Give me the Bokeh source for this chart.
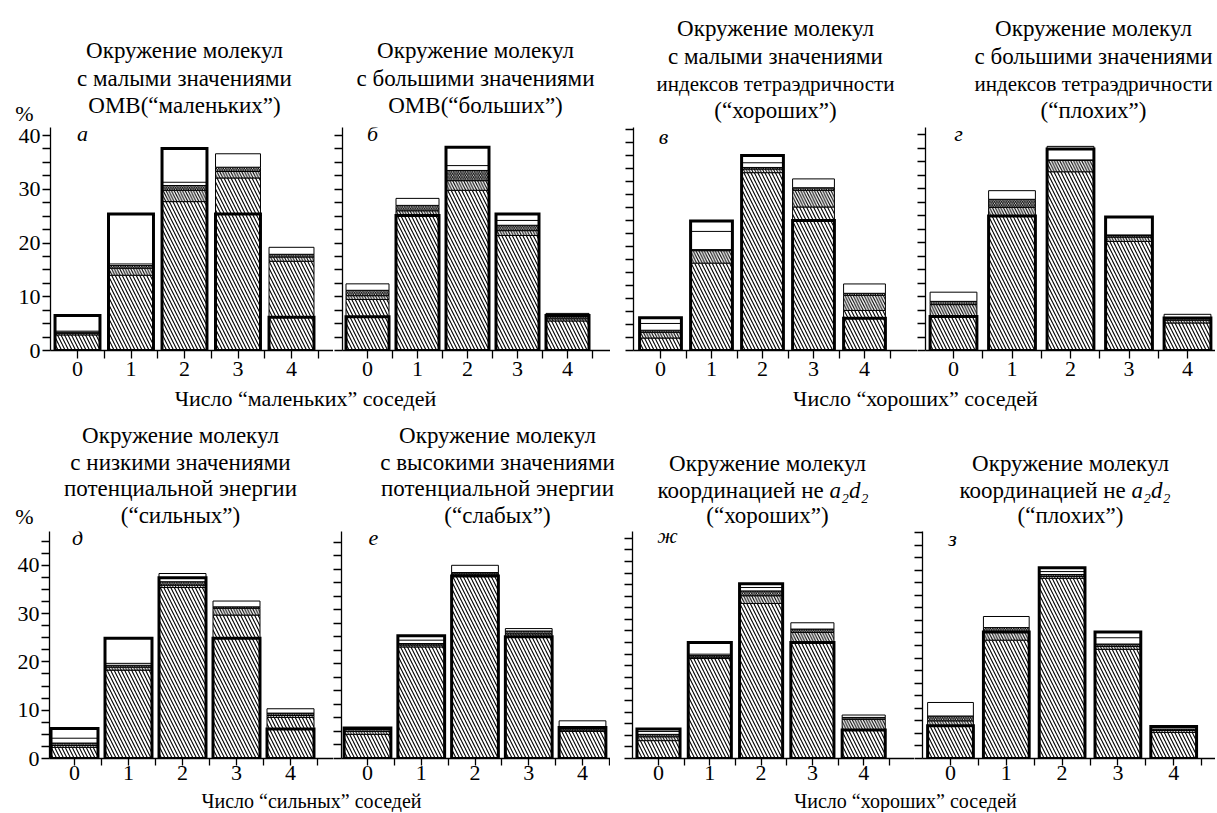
from bokeh.plotting import figure
from bokeh.layouts import column, row
from bokeh.models import Range1d, FixedTicker, Label
from bokeh.embed import file_html
from bokeh.resources import INLINE

FONT = "Liberation Serif"

# ---------------- data ----------------
neighbours = [0, 1, 2, 3, 4]
tick_labels = ["0", "1", "2", "3", "4"]

# а
a_hatch = [2.9, 14.0, 27.7, 32.1, 16.6]
a_hatch2 = [3.2, 15.3, 29.8, 33.3, 17.4]
a_band = [3.4, 15.8, 30.7, 34.1, 17.9]
a_total = [3.6, 16.1, 31.3, 36.6, 19.2]
a_model = [6.5, 25.4, 37.6, 25.4, 6.2]
# б
b_hatch = [9.5, 25.1, 29.8, 21.4, 5.5]
b_hatch2 = [10.2, 26.0, 31.6, 22.3, 5.9]
b_band = [11.2, 27.0, 33.5, 23.3, 6.3]
b_total = [12.4, 28.3, 34.4, 24.2, 6.9]
b_model = [6.3, 25.1, 37.8, 25.4, 6.5]
# в
v_hatch = [2.4, 16.8, 34.2, 27.6, 7.7]
v_hatch2 = [3.5, 19.2, 34.9, 30.8, 10.6]
v_band = [3.9, 19.4, 35.2, 31.3, 11.0]
v_total = [5.2, 22.9, 36.1, 33.0, 12.8]
v_model = [6.3, 24.9, 37.5, 25.0, 6.2]
# г
g_hatch = [6.3, 24.9, 33.1, 20.2, 5.1]
g_hatch2 = [8.5, 26.5, 35.2, 21.0, 5.6]
g_band = [9.1, 28.0, 35.3, 21.3, 6.0]
g_total = [10.8, 29.6, 37.8, 21.4, 6.7]
g_model = [6.3, 24.9, 37.3, 24.7, 6.0]
# д
d_hatch = [2.3, 18.3, 35.4, 29.7, 8.5]
d_hatch2 = [2.7, 18.9, 35.9, 31.1, 8.9]
d_band = [3.2, 19.3, 36.6, 31.4, 9.4]
d_total = [4.2, 19.7, 38.3, 32.6, 10.3]
d_model = [6.2, 24.9, 37.4, 24.9, 6.1]
# е
e_hatch = [5.0, 23.1, 37.8, 25.1, 5.6]
e_hatch2 = [5.6, 23.5, 38.2, 25.8, 5.9]
e_band = [6.0, 23.8, 38.5, 26.4, 6.2]
e_total = [6.2, 24.5, 40.0, 26.9, 7.8]
e_model = [6.3, 25.4, 37.8, 25.2, 6.4]
# ж
zh_hatch = [3.7, 20.7, 32.1, 24.0, 5.9]
zh_hatch2 = [4.5, 21.0, 33.7, 26.1, 8.1]
zh_band = [5.0, 21.3, 34.7, 26.8, 8.5]
zh_total = [5.6, 21.6, 35.4, 28.1, 9.0]
zh_model = [6.1, 24.0, 36.2, 24.0, 5.9]
# з
z_hatch = [6.8, 24.5, 37.3, 22.6, 5.4]
z_hatch2 = [7.8, 26.2, 37.7, 23.2, 5.8]
z_band = [8.8, 27.1, 38.1, 23.7, 6.1]
z_total = [11.6, 29.4, 38.7, 25.0, 6.4]
z_model = [6.8, 26.2, 39.5, 26.2, 6.6]

title_a = ["Окружение молекул", "с малыми значениями", "ОМВ(“маленьких”)"]
title_b = ["Окружение молекул", "с большими значениями", "ОМВ(“больших”)"]
title_v = ["Окружение молекул", "с малыми значениями", "индексов тетраэдричности", "(“хороших”)"]
title_g = ["Окружение молекул", "с большими значениями", "индексов тетраэдричности", "(“плохих”)"]
title_d = ["Окружение молекул", "с низкими значениями", "потенциальной энергии", "(“сильных”)"]
title_e = ["Окружение молекул", "с высокими значениями", "потенциальной энергии", "(“слабых”)"]
title_zh = ["Окружение молекул", "координацией не |a₂d₂", "(“хороших”)"]
title_z = ["Окружение молекул", "координацией не |a₂d₂", "(“плохих”)"]

xlabel_top = ["Число “маленьких” соседей", "Число “хороших” соседей"]
xlabel_bottom = ["Число “сильных” соседей", "Число “хороших” соседей"]

# ---------------- layout (page px) ----------------
W = 1215
ROWS = [
    dict(frame_top=127, axis_y=350, bottom=36, tick=8, standoff=3),
    dict(frame_top=531, axis_y=758, bottom=31, tick=7, standoff=0),
]
PANELS = [
    dict(r=0, left=0, w=333, bl=50, c0=77, u=53.5, bw=0.84, k=5.375, ystep=2.5, ylab=True,
         letter="а", lpos=(82, 133), tx=184, ty=[50, 78, 105], title=title_a,
         data=(a_hatch, a_hatch2, a_band, a_total, a_model)),
    dict(r=0, left=333, w=277, bl=9, c0=367, u=50, bw=0.86, k=5.375, ystep=2.5, ylab=False,
         letter="б", lpos=(372, 133), tx=475, ty=[50, 78, 105], title=title_b,
         data=(b_hatch, b_hatch2, b_band, b_total, b_model)),
    dict(r=0, left=610, w=307, bl=23, c0=660, u=51, bw=0.82, k=5.2, ystep=2.5, ylab=False,
         letter="в", lpos=(663, 136), tx=775, ty=[28, 56, 83, 110], title=title_v,
         data=(v_hatch, v_hatch2, v_band, v_total, v_model)),
    dict(r=0, left=917, w=298, bl=8, c0=953, u=58.5, bw=0.8, k=5.4, ystep=2.5, ylab=False,
         letter="г", lpos=(958, 133), tx=1093, ty=[28, 56, 83, 110], title=title_g,
         data=(g_hatch, g_hatch2, g_band, g_total, g_model)),
    dict(r=1, left=0, w=333, bl=49, c0=74, u=54, bw=0.87, k=4.83, ystep=2.5, ylab=True,
         letter="д", lpos=(77, 537), tx=180, ty=[435, 462, 488, 515], title=title_d,
         data=(d_hatch, d_hatch2, d_band, d_total, d_model)),
    dict(r=1, left=333, w=277, bl=8, c0=367, u=53.75, bw=0.87, k=4.83, ystep=2.8, ylab=False,
         letter="е", lpos=(373, 537), tx=497, ty=[435, 462, 488, 515], title=title_e,
         data=(e_hatch, e_hatch2, e_band, e_total, e_model)),
    dict(r=1, left=610, w=304, bl=22, c0=658, u=51.3, bw=0.84, k=4.83, ystep=2.4, ylab=False,
         letter="ж", lpos=(667, 535), tx=767, ty=[463, 490, 515], title=title_zh, split=829,
         data=(zh_hatch, zh_hatch2, zh_band, zh_total, zh_model)),
    dict(r=1, left=914, w=301, bl=8, c0=950, u=55.8, bw=0.82, k=4.83, ystep=2.6, ylab=False,
         letter="з", lpos=(952, 538), tx=1070, ty=[463, 490, 515], title=title_z, split=1131,
         data=(z_hatch, z_hatch2, z_band, z_total, z_model)),
]


def style_text(size="23px", **kw):
    d = dict(text_font=FONT, text_font_size=size, text_color="black", text_baseline="middle")
    d.update(kw)
    return d


def make_panel(s):
    rw = ROWS[s["r"]]
    L = s["left"] + s["bl"]
    R = s["left"] + s["w"]
    u, c0, k, ay = s["u"], s["c0"], s["k"], rw["axis_y"]
    x0 = (L - c0) / u
    x1 = (R - c0) / u
    frame_h = ay - rw["frame_top"]
    ymax = frame_h / k

    p = figure(width=s["w"], height=frame_h + rw["bottom"], x_range=Range1d(x0, x1),
               y_range=Range1d(0, ymax), min_border_left=s["bl"], min_border_right=0,
               min_border_top=0, min_border_bottom=rw["bottom"], toolbar_location=None,
               output_backend="svg", title=None)
    p.outline_line_color = None
    p.grid.visible = False

    hatch, hatch2, band, total, model = s["data"]
    zeros = [0] * len(neighbours)
    bw = s["bw"]
    common = dict(x=neighbours, width=bw, fill_color="white", line_color="black", line_width=1,
                  hatch_color="black", hatch_weight=1.1)
    p.vbar(bottom=zeros, top=hatch, hatch_pattern="\\", hatch_scale=7, **common)
    p.vbar(bottom=hatch, top=hatch2, hatch_pattern="\\", hatch_scale=5.5, **common)
    p.vbar(bottom=hatch2, top=band, hatch_pattern="\\", hatch_scale=3.5, **common)
    p.vbar(bottom=band, top=total, **common)
    p.vbar(x=neighbours, width=bw, bottom=zeros, top=model, fill_alpha=0, line_color="black",
           line_width=3, line_join="miter")

    xa = p.xaxis[0]
    xa.ticker = FixedTicker(ticks=neighbours, minor_ticks=[n + 0.5 for n in neighbours])
    xa.major_label_overrides = {n: t for n, t in zip(neighbours, tick_labels)}
    xa.major_tick_out = rw["tick"]
    xa.major_tick_in = 0
    xa.minor_tick_out = rw["tick"]
    xa.minor_tick_in = 0
    xa.major_label_standoff = rw["standoff"]
    xa.major_label_text_font = FONT
    xa.major_label_text_font_size = "22px"
    xa.major_label_text_color = "black"
    xa.axis_line_width = 1.3
    xa.major_tick_line_width = 1.3
    xa.minor_tick_line_width = 1.3

    ya = p.yaxis[0]
    n_ticks = int(ymax / s["ystep"] + 1e-6)
    all_ticks = [round(i * s["ystep"], 3) for i in range(n_ticks + 1)]
    if s["ylab"]:
        majors = [0, 10, 20, 30, 40]
        ya.ticker = FixedTicker(ticks=majors, minor_ticks=[t for t in all_ticks if t not in majors])
        ya.major_label_standoff = 2
        ya.major_label_text_font = FONT
        ya.major_label_text_font_size = "22px"
        ya.major_label_text_color = "black"
    else:
        ya.ticker = FixedTicker(ticks=[], minor_ticks=all_ticks)
        ya.major_label_standoff = 0
    ya.major_tick_out = 8
    ya.major_tick_in = 0
    ya.minor_tick_out = 8
    ya.minor_tick_in = 0
    ya.axis_line_width = 1.3
    ya.major_tick_line_width = 1.3
    ya.minor_tick_line_width = 1.3

    lx, ly = s["lpos"]
    p.add_layout(Label(x=x0 + (lx - L) / u, y=(ay - ly) / k, text=s["letter"], text_align="center",
                       text_font_style="italic", **style_text("22px")))
    return p


def make_strip(y_top, y_bottom):
    """Text strip spanning the page; its data coordinates are page px."""
    f = figure(width=W, height=y_bottom - y_top, x_range=Range1d(0, W),
               y_range=Range1d(y_bottom, y_top), x_axis_type=None, y_axis_type=None,
               toolbar_location=None, output_backend="svg", min_border=0, title=None)
    f.outline_line_color = None
    f.grid.visible = False
    return f


def add_titles(f, panels):
    for s in panels:
        for line, ty in zip(s["title"], s["ty"]):
            size = "21px" if len(line) > 22 else "23px"
            if "|" in line:
                a, b = line.split("|")
                f.add_layout(Label(x=s["split"], y=ty, text=a.rstrip() + " ", text_align="right",
                                   **style_text("23px")))
                f.add_layout(Label(x=s["split"], y=ty, text=b, text_align="left",
                                   text_font_style="italic", **style_text("23px")))
            else:
                f.add_layout(Label(x=s["tx"], y=ty, text=line, text_align="center",
                                   **style_text(size)))


top_fig_bot = ROWS[0]["axis_y"] + ROWS[0]["bottom"]
bot_fig_bot = ROWS[1]["axis_y"] + ROWS[1]["bottom"]

strip1 = make_strip(0, ROWS[0]["frame_top"])
add_titles(strip1, PANELS[:4])
strip1.add_layout(Label(x=24, y=113, text="%", text_align="center", **style_text("22px")))

strip2 = make_strip(top_fig_bot, ROWS[1]["frame_top"])
for t, c in zip(xlabel_top, [305, 915]):
    strip2.add_layout(Label(x=c, y=398, text=t, text_align="center", **style_text("22px")))
add_titles(strip2, PANELS[4:])
strip2.add_layout(Label(x=24, y=516, text="%", text_align="center", **style_text("22px")))

strip3 = make_strip(bot_fig_bot, 812)
for t, c in zip(xlabel_bottom, [311, 905]):
    strip3.add_layout(Label(x=c, y=(bot_fig_bot + 812) / 2, text=t, text_align="center",
                            **style_text("20px")))

figs = [make_panel(s) for s in PANELS]

layout = column(strip1, row(*figs[:4], spacing=0), strip2, row(*figs[4:], spacing=0), strip3,
                spacing=0)

open("out.html", "w").write(file_html(layout, INLINE))
